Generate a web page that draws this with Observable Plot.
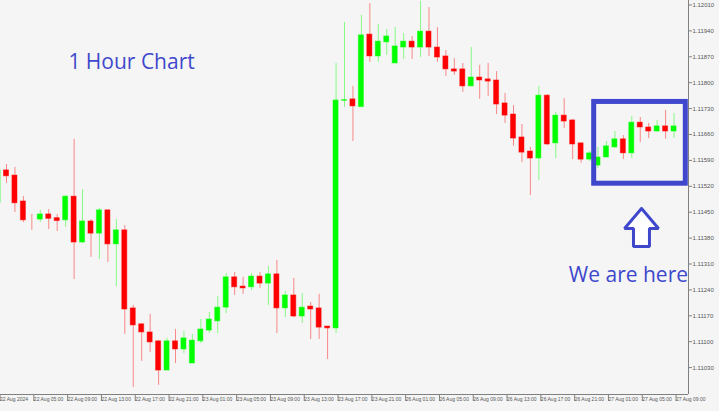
<!DOCTYPE html>
<html><head><meta charset="utf-8">
<script src="https://cdn.jsdelivr.net/npm/d3@7"></script>
<script src="https://cdn.jsdelivr.net/npm/@observablehq/plot@0.6"></script>
<style>html,body{margin:0;padding:0;background:#f5f5f5;overflow:hidden}</style>
</head><body><div id="chart"></div>
<script>
// EURUSD H1 candles, bars 0..80
const opens  = [1.11476,1.11563,1.11549,1.11479,1.11430,1.11430,1.11444,1.11434,1.11428,1.11492,
                1.11368,1.11425,1.11392,1.11455,1.11363,1.11401,1.11190,1.11147,1.11125,1.11101,
                1.11022,1.11101,1.11079,1.11041,1.11101,1.11130,1.11155,1.11192,1.11274,1.11249,
                1.11247,1.11276,1.11257,1.11282,1.11190,1.11225,1.11168,1.11195,1.11190,1.11141,
                1.11136,1.11751,1.11755,1.11734,1.11930,1.11871,1.11909,1.11852,1.11895,1.11911,
                1.11895,1.11938,1.11895,1.11871,1.11836,1.11836,1.11790,1.11814,1.11809,1.11806,
                1.11744,1.11714,1.11652,1.11614,1.11595,1.11765,1.11636,1.11711,1.11698,1.11636,
                1.11592,1.11576,1.11598,1.11625,1.11647,1.11609,1.11692,1.11679,1.11668,1.11682,
                1.11668];
const highs  = [1.11568,1.11579,1.11571,1.11492,1.11444,1.11455,1.11457,1.11444,1.11495,1.11647,
                1.11511,1.11430,1.11460,1.11457,1.11430,1.11414,1.11198,1.11149,1.11174,1.11103,
                1.11109,1.11133,1.11128,1.11120,1.11160,1.11179,1.11222,1.11284,1.11287,1.11274,
                1.11284,1.11287,1.11303,1.11320,1.11236,1.11271,1.11230,1.11206,1.11228,1.11141,
                1.11852,1.11963,1.11790,1.11982,1.12014,1.11957,1.11944,1.11949,1.11933,1.11925,
                1.12020,1.12003,1.11949,1.11887,1.11865,1.11852,1.11895,1.11847,1.11852,1.11830,
                1.11771,1.11738,1.11687,1.11625,1.11790,1.11768,1.11720,1.11757,1.11701,1.11638,
                1.11614,1.11625,1.11641,1.11668,1.11657,1.11709,1.11706,1.11690,1.11698,1.11725,
                1.11717];
const lows   = [1.11471,1.11528,1.11449,1.11422,1.11401,1.11422,1.11403,1.11398,1.11409,1.11268,
                1.11365,1.11328,1.11322,1.11314,1.11249,1.11120,1.10976,1.11047,1.11071,1.10982,
                1.11022,1.11041,1.11068,1.11041,1.11095,1.11122,1.11122,1.11176,1.11225,1.11228,
                1.11238,1.11244,1.11198,1.11122,1.11165,1.11165,1.11149,1.11106,1.11106,1.11052,
                1.11122,1.11733,1.11641,1.11733,1.11855,1.11855,1.11874,1.11851,1.11863,1.11863,
                1.11868,1.11871,1.11855,1.11817,1.11820,1.11774,1.11790,1.11755,1.11763,1.11714,
                1.11690,1.11628,1.11584,1.11495,1.11536,1.11630,1.11595,1.11676,1.11592,1.11582,
                1.11587,1.11568,1.11597,1.11624,1.11592,1.11595,1.11638,1.11649,1.11667,1.11647,
                1.11649];
const closes = [1.11563,1.11547,1.11474,1.11428,1.11430,1.11444,1.11432,1.11426,1.11492,1.11368,
                1.11425,1.11392,1.11455,1.11363,1.11401,1.11187,1.11144,1.11125,1.11098,1.11022,
                1.11101,1.11079,1.11109,1.11103,1.11133,1.11160,1.11192,1.11274,1.11247,1.11244,
                1.11276,1.11257,1.11282,1.11190,1.11225,1.11168,1.11192,1.11187,1.11138,1.11136,
                1.11752,1.11753,1.11736,1.11928,1.11871,1.11911,1.11925,1.11898,1.11911,1.11895,
                1.11938,1.11895,1.11868,1.11836,1.11830,1.11790,1.11814,1.11806,1.11803,1.11741,
                1.11711,1.11649,1.11611,1.11595,1.11765,1.11633,1.11711,1.11695,1.11633,1.11592,
                1.11609,1.11598,1.11628,1.11647,1.11609,1.11692,1.11679,1.11668,1.11682,1.11668,
                1.11682];
const timeLabels = ["22 Aug 2024","22 Aug 05:00","22 Aug 09:00","22 Aug 13:00","22 Aug 17:00",
                    "22 Aug 21:00","23 Aug 01:00","23 Aug 05:00","23 Aug 09:00","23 Aug 13:00",
                    "23 Aug 17:00","23 Aug 21:00","26 Aug 01:00","26 Aug 05:00","26 Aug 09:00",
                    "26 Aug 13:00","26 Aug 17:00","26 Aug 21:00","27 Aug 01:00","27 Aug 05:00",
                    "27 Aug 09:00"];
const timeLabelBars = [0,4,8,12,16,20,24,28,32,36,40,44,48,52,56,60,64,68,72,76,80];
const priceTicks = [1.12010,1.11940,1.11870,1.11800,1.11730,1.11660,1.11590,1.11520,
                    1.11450,1.11380,1.11310,1.11240,1.11170,1.11100,1.11030];

// annotations (bar index / price)
const boxBars = [70.55, 81.39];
const boxPrices = [1.11748, 1.11527];
const arrowBars   = [76.15, 78.16, 77.09, 77.09, 75.20, 75.20, 74.14, 76.15];
const arrowPrices = [1.11460,1.11406,1.11406,1.11357,1.11357,1.11406,1.11406,1.11460];
const notes = [{i:15.8, p:1.11855, t:"1 Hour Chart"},{i:74.6, p:1.11279, t:"We are here"}];

const xDomain = [0.29, 81.71];
const yDomain = [1.109573, 1.1202216];

const candles = opens.map((o,i)=>({i, o, h:highs[i], l:lows[i], c:closes[i],
  col: closes[i] > o ? "#00ff00" : "#ff0000"}));
const arrow = arrowBars.map((b,k)=>({i:b, p:arrowPrices[k]}));
const blue = "#3f48cc";

const chart = Plot.plot({
  width: 719, height: 411,
  marginLeft: 0, marginRight: 31, marginTop: 0, marginBottom: 17,
  style: {background: "#f5f5f5", fontFamily: "'Liberation Sans Narrow','Liberation Sans',sans-serif", color: "#444"},
  x: {domain: xDomain, axis: null, label: null},
  y: {domain: yDomain, axis: null, label: null},
  color: {type: "identity"},
  marks: [
    Plot.ruleX(candles, {x: "i", y1: "l", y2: "h", stroke: "col", strokeOpacity: 0.45, clip: true}),
    Plot.rect(candles, {x1: d => d.i - 0.3, x2: d => d.i + 0.3, y1: "o", y2: "c",
      fill: "col", stroke: "col", strokeOpacity: 0.45, clip: true}),
    Plot.ruleY([yDomain[0]], {stroke: "#808080"}),
    Plot.ruleX([xDomain[1]], {stroke: "#808080"}),
    Plot.axisY(priceTicks, {anchor: "right", tickSize: 3, tickPadding: 1, fontSize: 6, label: null,
      tickFormat: d => d.toFixed(5), stroke: "#808080", fill: "#555"}),
    Plot.axisX(timeLabelBars, {anchor: "bottom", tickSize: 7, tickPadding: -4, fontSize: 5, label: null,
      textAnchor: "start", dx: 2, tickFormat: d => timeLabels[timeLabelBars.indexOf(d)],
      stroke: "#808080", fill: "#555"}),
    Plot.rect([0], {x1: () => boxBars[0], x2: () => boxBars[1], y1: () => boxPrices[0], y2: () => boxPrices[1],
      fill: "none", stroke: blue, strokeWidth: 5}),
    Plot.line(arrow, {x: "i", y: "p", stroke: blue, strokeWidth: 3, fill: "white", strokeLinejoin: "miter"}),
    Plot.text(notes, {x: "i", y: "p", text: "t", fill: blue, fontSize: 21,
      fontFamily: "'Open Sans', sans-serif"})
  ]
});
document.getElementById("chart").appendChild(chart);
</script>
</body></html>
